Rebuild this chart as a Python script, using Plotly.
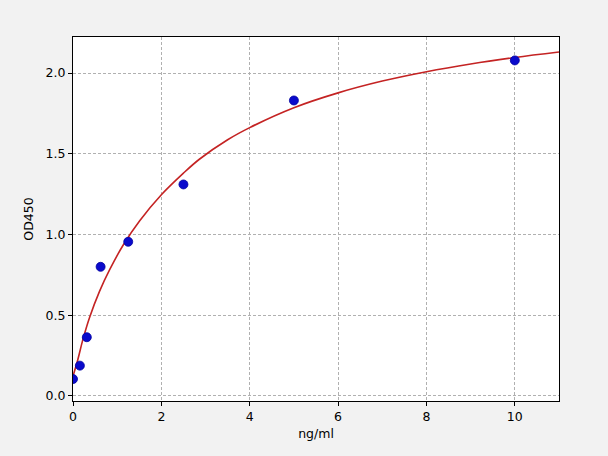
import plotly.graph_objects as go

# puntos medidos del estandar
conc = [0, 0.156, 0.3125, 0.625, 1.25, 2.5, 5, 10]
od450 = [0.105, 0.188, 0.364, 0.80, 0.955, 1.31, 1.83, 2.078]

# curva ajustada
curva_x = [0, 0.11, 0.226, 0.377, 0.6, 0.83, 1.13, 1.51, 2, 2.5, 2.86, 3.5, 4, 5, 6, 7, 8, 9, 10, 11]
curva_y = [0.123, 0.226, 0.352, 0.488, 0.648, 0.782, 0.932, 1.085, 1.246, 1.38, 1.466, 1.587, 1.662,
           1.785, 1.877, 1.950, 2.008, 2.056, 2.096, 2.13]

fig = go.Figure()
fig.add_trace(go.Scatter(
    x=curva_x, y=curva_y,
    mode="lines",
    line=dict(color="#c42323", width=1.6, shape="spline", smoothing=1),
    hoverinfo="skip",
))
fig.add_trace(go.Scatter(
    x=conc, y=od450,
    mode="markers",
    marker=dict(size=9, color="#0a0acc", line=dict(color="#0000a0", width=0.8)),
))

fuente = dict(family="DejaVu Sans", size=12.5, color="black")
ejes = dict(
    showline=True, linecolor="black", linewidth=1.2, mirror=True,
    ticks="outside", ticklen=4, tickcolor="black",
    showgrid=True, gridcolor="#b0b0b0", griddash="3px,2px", gridwidth=0.8,
    zeroline=False, tickfont=fuente,
)
fig.update_layout(
    width=608, height=456,
    margin=dict(l=73, r=49, t=37, b=55),
    paper_bgcolor="#f2f2f2",
    plot_bgcolor="white",
    showlegend=False,
    font=fuente,
    xaxis=dict(range=[0, 11], tickvals=[0, 2, 4, 6, 8, 10],
               title=dict(text="ng/ml", font=fuente, standoff=6), **ejes),
    yaxis=dict(range=[-0.031, 2.223], tickvals=[0, 0.5, 1.0, 1.5, 2.0], tickformat=".1f",
               title=dict(text="OD450", font=fuente, standoff=9), **ejes),
)

# quitamos el margen del body para que la figura quede pegada a la esquina
fig.write_html("out.html", config={"displayModeBar": False},
               post_script="document.body.style.margin='0px';document.body.style.background='#f2f2f2';")
